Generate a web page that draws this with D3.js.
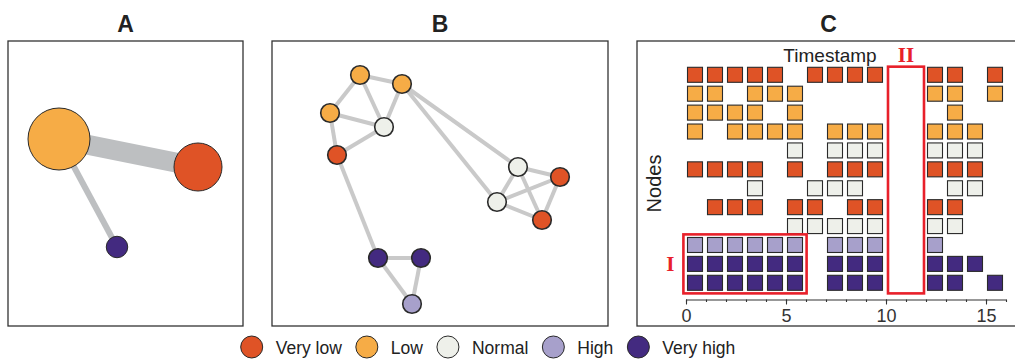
<!DOCTYPE html>
<html>
<head>
<meta charset="utf-8">
<script src="https://cdn.jsdelivr.net/npm/d3@7"></script>
<style>
  body { margin: 0; background: #fff; }
  svg { display: block; font-family: 'Liberation Sans', Arial, sans-serif; }
</style>
</head>
<body>
<div class="figure"></div>
<script>
const width = 1015
const height = 362

const levels = ['Very low', 'Low', 'Normal', 'High', 'Very high']
const levelColors = ['#df5326', '#f6ac46', '#eef0ea', '#a7a0cb', '#432a80']

// panel A - aggregated groups
const groupLevel = [1, 0, 4]
const groupX = [51, 190, 109]
const groupY = [98, 126, 206]
const groupSize = [100, 60, 12]
const groupLinks = [[0, 1, 10], [0, 2, 3]]

// panel B - node network
const nodeLevel = [1, 1, 1, 2, 0, 2, 0, 2, 0, 4, 4, 3]
const nodeX = [88, 130, 58, 112, 65, 246, 288, 225, 270, 106, 149, 140]
const nodeY = [34, 43, 72, 86, 114, 126, 136, 161, 179, 217, 217, 263]
const nodeLinks = [
  [0, 1], [0, 2], [0, 3], [1, 3], [2, 3], [2, 4], [4, 3],
  [1, 5], [1, 7], [5, 6], [5, 7], [5, 8], [7, 6], [7, 8], [6, 8],
  [4, 9], [9, 10], [9, 11], [10, 11]
]

// panel C - node state per timestamp
const rowLevel = [0, 1, 1, 1, 2, 0, 2, 0, 2, 3, 4, 4]
const rowTimes = [
  [0, 1, 2, 3, 4, 6, 7, 8, 9, 12, 13, 15],
  [0, 1, 3, 4, 5, 12, 13, 15],
  [0, 1, 2, 3, 5, 13],
  [0, 2, 3, 4, 5, 7, 8, 9, 12, 13, 14],
  [5, 7, 8, 9, 12, 13, 14],
  [0, 1, 2, 3, 5, 7, 8, 9, 12, 13, 14],
  [3, 6, 7, 8, 13, 14],
  [1, 2, 3, 5, 6, 8, 9, 12, 13],
  [5, 6, 7, 8, 9, 12, 13],
  [0, 1, 2, 3, 4, 5, 7, 8, 9, 12],
  [0, 1, 2, 3, 4, 5, 7, 8, 9, 12, 13, 14],
  [0, 1, 2, 3, 4, 5, 7, 8, 9, 12, 13, 15]
]
const highlightLabel = ['I', 'II']
const highlightTime = [[-0.13, 6.03], [10.1, 11.9]]
const highlightRows = [[8.44, 11.56], [-0.43, 11.56]]
const majorTicks = [0, 5, 10, 15]

const theme = {
  frame: '#333',
  link: '#c9c9c9',
  linkA: '#bdbfc1',
  stroke: '#2a2a2a',
  highlight: '#e8202a',
  text: '#222'
}

const svg = d3.select('.figure')
  .append('svg')
  .attr('width', width)
  .attr('height', height)

const panels = [
  { title: 'A', x: 8, y: 41, w: 235, h: 285 },
  { title: 'B', x: 272, y: 41, w: 336, h: 285 },
  { title: 'C', x: 637, y: 41, w: 383, h: 285 }
]

panels.forEach(p => {
  svg.append('rect')
    .attr('x', p.x)
    .attr('y', p.y)
    .attr('width', p.w)
    .attr('height', p.h)
    .attr('fill', 'none')
    .attr('stroke', theme.frame)
    .attr('stroke-width', 1.3)
  svg.append('text')
    .attr('x', p.x + p.w / 2)
    .attr('y', 31.5)
    .attr('text-anchor', 'middle')
    .attr('font-size', 23)
    .attr('font-weight', 'bold')
    .attr('fill', theme.text)
    .text(p.title)
})

function drawPanelA() {
  const p = panels[0]
  const x = d3.scaleLinear().domain([0, p.w]).range([p.x, p.x + p.w])
  const y = d3.scaleLinear().domain([0, p.h]).range([p.y, p.y + p.h])
  const r = d3.scaleSqrt().domain([0, 100]).range([0, 31])
  const w = d3.scaleLinear().domain([0, 10]).range([0, 20])
  const g = svg.append('g').attr('class', 'panel-a')

  g.selectAll('line')
    .data(groupLinks)
    .join('line')
    .attr('x1', d => x(groupX[d[0]]))
    .attr('y1', d => y(groupY[d[0]]))
    .attr('x2', d => x(groupX[d[1]]))
    .attr('y2', d => y(groupY[d[1]]))
    .attr('stroke', theme.linkA)
    .attr('stroke-width', d => w(d[2]))

  g.selectAll('circle')
    .data(groupLevel)
    .join('circle')
    .attr('cx', (d, i) => x(groupX[i]))
    .attr('cy', (d, i) => y(groupY[i]))
    .attr('r', (d, i) => r(groupSize[i]))
    .attr('fill', d => levelColors[d])
    .attr('stroke', theme.stroke)
    .attr('stroke-width', 1)
}

function drawPanelB() {
  const p = panels[1]
  const x = d3.scaleLinear().domain([0, p.w]).range([p.x, p.x + p.w])
  const y = d3.scaleLinear().domain([0, p.h]).range([p.y, p.y + p.h])
  const g = svg.append('g').attr('class', 'panel-b')

  g.selectAll('line')
    .data(nodeLinks)
    .join('line')
    .attr('x1', d => x(nodeX[d[0]]))
    .attr('y1', d => y(nodeY[d[0]]))
    .attr('x2', d => x(nodeX[d[1]]))
    .attr('y2', d => y(nodeY[d[1]]))
    .attr('stroke', theme.link)
    .attr('stroke-width', 4)

  g.selectAll('circle')
    .data(nodeLevel)
    .join('circle')
    .attr('cx', (d, i) => x(nodeX[i]))
    .attr('cy', (d, i) => y(nodeY[i]))
    .attr('r', 9.3)
    .attr('fill', d => levelColors[d])
    .attr('stroke', theme.stroke)
    .attr('stroke-width', 1.6)
}

function drawPanelC() {
  const x = d3.scaleLinear().domain([0, 16]).range([686, 1006])
  const y = d3.scaleLinear().domain([0, 11]).range([74.8, 282.8])
  const axisY = 299.5
  const g = svg.append('g').attr('class', 'panel-c')

  const cells = []
  rowTimes.forEach((times, row) => {
    times.forEach(t => cells.push({ row: row, t: t, level: rowLevel[row] }))
  })

  g.selectAll('rect.cell')
    .data(cells)
    .join('rect')
    .attr('class', 'cell')
    .attr('x', d => x(d.t) + 1.5)
    .attr('y', d => y(d.row) - 7.5)
    .attr('width', x(1) - x(0) - 5)
    .attr('height', 15)
    .attr('fill', d => levelColors[d.level])
    .attr('stroke', theme.stroke)
    .attr('stroke-width', 1.1)

  // highlighted regions
  g.selectAll('rect.highlight')
    .data(highlightLabel)
    .join('rect')
    .attr('class', 'highlight')
    .attr('x', (d, i) => x(highlightTime[i][0]))
    .attr('y', (d, i) => y(highlightRows[i][0]))
    .attr('width', (d, i) => x(highlightTime[i][1]) - x(highlightTime[i][0]))
    .attr('height', (d, i) => y(highlightRows[i][1]) - y(highlightRows[i][0]))
    .attr('fill', 'none')
    .attr('stroke', theme.highlight)
    .attr('stroke-width', 2.6)

  g.append('text')
    .attr('x', x(highlightTime[0][0]) - 13)
    .attr('y', y(10) + 7.5)
    .attr('text-anchor', 'middle')
    .attr('font-family', "'Liberation Serif', 'Times New Roman', serif")
    .attr('font-weight', 'bold')
    .attr('font-size', 21)
    .attr('fill', theme.highlight)
    .text(highlightLabel[0])

  g.append('text')
    .attr('x', (x(highlightTime[1][0]) + x(highlightTime[1][1])) / 2)
    .attr('y', y(highlightRows[1][0]) - 4.5)
    .attr('text-anchor', 'middle')
    .attr('font-family', "'Liberation Serif', 'Times New Roman', serif")
    .attr('font-weight', 'bold')
    .attr('font-size', 21)
    .attr('fill', theme.highlight)
    .text(highlightLabel[1])

  // axes
  const minor = d3.axisBottom(x)
    .tickValues(d3.range(0, 17))
    .tickSize(2.5)
    .tickSizeOuter(0)
    .tickFormat('')
  const major = d3.axisBottom(x)
    .tickValues(majorTicks)
    .tickSize(5)
    .tickPadding(4.5)
    .tickSizeOuter(0)

  const gMinor = g.append('g')
    .attr('transform', `translate(0,${axisY})`)
    .call(minor)
  const gMajor = g.append('g')
    .attr('transform', `translate(0,${axisY})`)
    .call(major)
  gMajor.select('.domain').remove()

  ;[gMinor, gMajor].forEach(a => {
    a.attr('font-family', null).attr('font-size', null)
    a.selectAll('line').attr('stroke', theme.frame).attr('stroke-width', 1.1)
    a.selectAll('path').attr('stroke', theme.frame).attr('stroke-width', 1.1)
  })
  gMajor.selectAll('text')
    .attr('font-size', 18)
    .attr('fill', '#333')

  g.append('text')
    .attr('x', x(7.2))
    .attr('y', 61.5)
    .attr('text-anchor', 'middle')
    .attr('font-size', 19)
    .attr('fill', theme.text)
    .text('Timestamp')

  g.append('text')
    .attr('transform', `translate(661,${y(5.75)}) rotate(-90)`)
    .attr('text-anchor', 'middle')
    .attr('font-size', 20)
    .attr('fill', theme.text)
    .text('Nodes')
}

function drawLegend() {
  const g = svg.append('g').attr('class', 'legend')
  let cx = 251.7
  levels.forEach((name, i) => {
    g.append('circle')
      .attr('cx', cx)
      .attr('cy', 347)
      .attr('r', 11)
      .attr('fill', levelColors[i])
      .attr('stroke', theme.stroke)
      .attr('stroke-width', 1)
    const label = g.append('text')
      .attr('x', cx + 24)
      .attr('y', 353.5)
      .attr('font-size', 17.5)
      .attr('fill', theme.text)
      .text(name)
    cx += 24 + label.node().getComputedTextLength() + 25
  })
}

drawPanelA()
drawPanelB()
drawPanelC()
drawLegend()
</script>
</body>
</html>
